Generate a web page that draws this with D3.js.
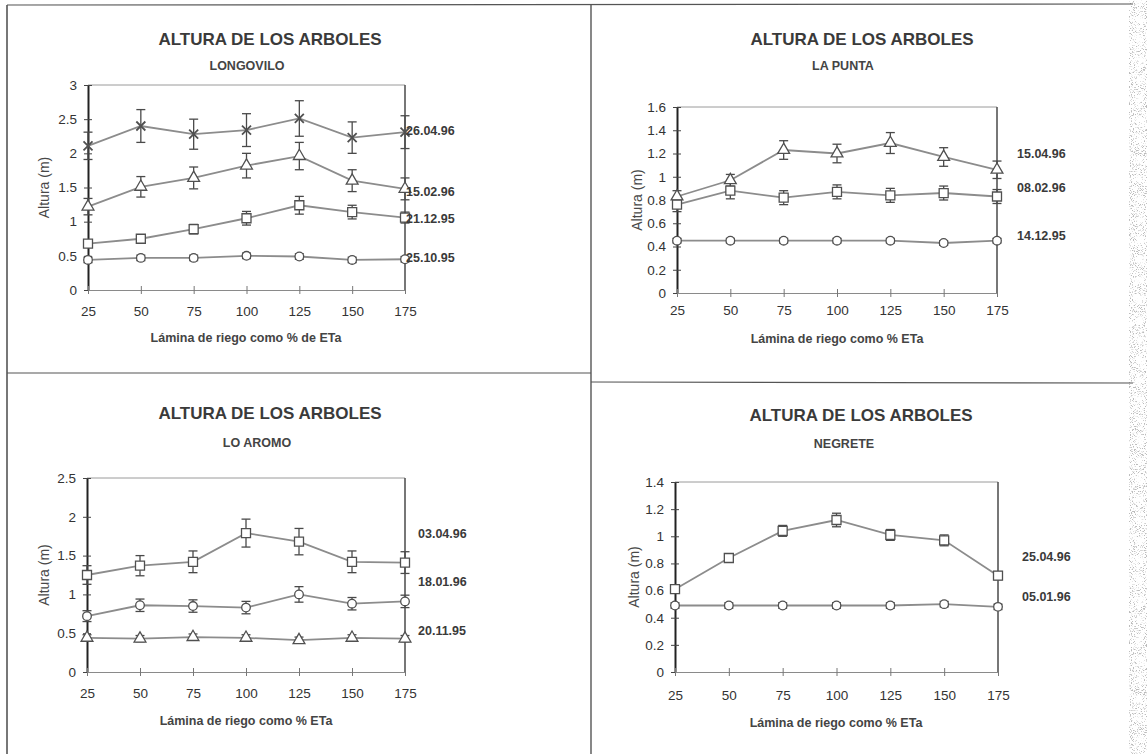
<!DOCTYPE html>
<html>
<head>
<meta charset="utf-8">
<script src="https://cdn.jsdelivr.net/npm/d3@7/dist/d3.min.js"></script>
<style>
  html, body { margin: 0; padding: 0; background: #fff; }
  svg { display: block; }
  text { font-family: "Liberation Sans", Arial, Helvetica, sans-serif; }
</style>
</head>
<body>
<svg id="chart" width="1147" height="754"></svg>
<script>
// Irrigation levels (% of ETa) shared by every panel
const laminas = [25, 50, 75, 100, 125, 150, 175];

// LONGOVILO - tree height (m) and its error half-width per sampling date
const longovilo_260496 = [2.11, 2.40, 2.28, 2.34, 2.51, 2.23, 2.31];
const longovilo_260496_err = [0.20, 0.24, 0.22, 0.24, 0.26, 0.23, 0.24];
const longovilo_150296 = [1.22, 1.51, 1.64, 1.82, 1.96, 1.60, 1.48];
const longovilo_150296_err = [0.12, 0.15, 0.16, 0.18, 0.20, 0.16, 0.16];
const longovilo_211295 = [0.68, 0.75, 0.89, 1.05, 1.24, 1.14, 1.06];
const longovilo_211295_err = [0.05, 0.05, 0.07, 0.10, 0.13, 0.10, 0.08];
const longovilo_251095 = [0.44, 0.47, 0.47, 0.50, 0.49, 0.44, 0.45];
const longovilo_251095_err = [0.04, 0.04, 0.04, 0.04, 0.04, 0.04, 0.04];

// LA PUNTA
const lapunta_150496 = [0.83, 0.97, 1.23, 1.20, 1.29, 1.17, 1.06];
const lapunta_150496_err = [0.05, 0.05, 0.08, 0.08, 0.09, 0.08, 0.075];
const lapunta_080296 = [0.76, 0.88, 0.82, 0.87, 0.84, 0.86, 0.83];
const lapunta_080296_err = [0.06, 0.07, 0.06, 0.06, 0.06, 0.06, 0.06];
const lapunta_141295 = [0.45, 0.45, 0.45, 0.45, 0.45, 0.43, 0.45];
const lapunta_141295_err = [0.02, 0.02, 0.02, 0.02, 0.02, 0.02, 0.02];

// LO AROMO
const loaromo_030496 = [1.25, 1.37, 1.42, 1.79, 1.68, 1.42, 1.41];
const loaromo_030496_err = [0.12, 0.13, 0.14, 0.18, 0.17, 0.14, 0.14];
const loaromo_180196 = [0.72, 0.86, 0.85, 0.83, 1.00, 0.88, 0.91];
const loaromo_180196_err = [0.07, 0.08, 0.08, 0.08, 0.10, 0.08, 0.08];
const loaromo_201195 = [0.44, 0.43, 0.45, 0.44, 0.41, 0.44, 0.43];
const loaromo_201195_err = [0.04, 0.04, 0.04, 0.04, 0.04, 0.04, 0.04];

// NEGRETE
const negrete_250496 = [0.61, 0.84, 1.04, 1.12, 1.01, 0.97, 0.71];
const negrete_250496_err = [0.03, 0.03, 0.04, 0.05, 0.04, 0.04, 0.03];
const negrete_050196 = [0.49, 0.49, 0.49, 0.49, 0.49, 0.50, 0.48];
const negrete_050196_err = [0.02, 0.02, 0.02, 0.02, 0.02, 0.02, 0.02];

// Axis tick values per panel
const ticksLongovilo = [0, 0.5, 1, 1.5, 2, 2.5, 3];
const ticksLaPunta = [0, 0.2, 0.4, 0.6, 0.8, 1, 1.2, 1.4, 1.6];
const ticksLoAromo = [0, 0.5, 1, 1.5, 2, 2.5];
const ticksNegrete = [0, 0.2, 0.4, 0.6, 0.8, 1, 1.2, 1.4];

const titulo = "ALTURA DE LOS ARBOLES";
const yTitulo = "Altura (m)";

// Panel layout: plot box, text anchors and where each date label sits
const panels = [
  {
    site: "LONGOVILO", xTitle: "Lámina de riego como % de ETa",
    box: { l: 88, r: 405, t: 85, b: 290 }, ticks: ticksLongovilo,
    titleX: 270, titleY: 45, subX: 247, subY: 70,
    xTitleX: 246, xTitleY: 342, tickY: 316, yTitleX: 45, labelX: 406,
    series: [
      { v: longovilo_260496, e: longovilo_260496_err, m: "x", name: "26.04.96" },
      { v: longovilo_150296, e: longovilo_150296_err, m: "triangle", name: "15.02.96", dy: 4 },
      { v: longovilo_211295, e: longovilo_211295_err, m: "square", name: "21.12.95", dy: 2 },
      { v: longovilo_251095, e: longovilo_251095_err, m: "circle", name: "25.10.95", dy: -1 }
    ]
  },
  {
    site: "LA PUNTA", xTitle: "Lámina de riego como % ETa",
    box: { l: 677, r: 997, t: 107, b: 293 }, ticks: ticksLaPunta,
    titleX: 862, titleY: 45, subX: 843, subY: 70,
    xTitleX: 837, xTitleY: 343, tickY: 315, yTitleX: 638, labelX: 1017,
    series: [
      { v: lapunta_150496, e: lapunta_150496_err, m: "triangle", name: "15.04.96", at: 1.19 },
      { v: lapunta_080296, e: lapunta_080296_err, m: "square", name: "08.02.96", at: 0.90 },
      { v: lapunta_141295, e: lapunta_141295_err, m: "circle", name: "14.12.95", at: 0.48 }
    ]
  },
  {
    site: "LO AROMO", xTitle: "Lámina de riego como % ETa",
    box: { l: 87, r: 405, t: 478, b: 672 }, ticks: ticksLoAromo,
    titleX: 270, titleY: 419, subX: 257, subY: 447,
    xTitleX: 246, xTitleY: 725, tickY: 698, yTitleX: 45, labelX: 418,
    series: [
      { v: loaromo_030496, e: loaromo_030496_err, m: "square", name: "03.04.96", at: 1.77 },
      { v: loaromo_180196, e: loaromo_180196_err, m: "circle", name: "18.01.96", at: 1.15 },
      { v: loaromo_201195, e: loaromo_201195_err, m: "triangle", name: "20.11.95", at: 0.52 }
    ]
  },
  {
    site: "NEGRETE", xTitle: "Lámina de riego como % ETa",
    box: { l: 675, r: 998, t: 482, b: 672 }, ticks: ticksNegrete,
    titleX: 861, titleY: 421, subX: 844, subY: 448,
    xTitleX: 836, xTitleY: 727, tickY: 700, yTitleX: 635, labelX: 1022,
    series: [
      { v: negrete_250496, e: negrete_250496_err, m: "square", name: "25.04.96", at: 0.84 },
      { v: negrete_050196, e: negrete_050196_err, m: "circle", name: "05.01.96", at: 0.55 }
    ]
  }
];

const svg = d3.select("#chart");
const W = 1147, H = 754;

// Paper background and speckled scan edge on the right
const defs = svg.append("defs");
const grain = defs.append("filter").attr("id", "grain")
  .attr("x", 0).attr("y", 0).attr("width", "100%").attr("height", "100%");
grain.append("feTurbulence").attr("type", "fractalNoise")
  .attr("baseFrequency", 0.95).attr("numOctaves", 2).attr("seed", 7).attr("result", "n");
grain.append("feColorMatrix").attr("in", "n").attr("type", "matrix")
  .attr("values", "0 0 0 0 0.5  0 0 0 0 0.5  0 0 0 0 0.5  7 0 0 0 -3.9");

svg.append("rect").attr("width", W).attr("height", H).attr("fill", "#fff");
svg.append("rect").attr("x", 1129).attr("y", 0).attr("width", W - 1129).attr("height", H)
  .attr("fill", "#fff").attr("filter", "url(#grain)");

// Frame lines dividing the four panels
const frame = svg.append("g").attr("stroke", "#555").attr("fill", "none");
frame.append("line").attr("x1", 7).attr("y1", 5).attr("x2", 1133).attr("y2", 4).attr("stroke-width", 1.2);
frame.append("line").attr("x1", 7).attr("y1", 5).attr("x2", 7).attr("y2", H).attr("stroke-width", 1.6);
frame.append("line").attr("x1", 591).attr("y1", 4).attr("x2", 591).attr("y2", H).attr("stroke-width", 1.4);
frame.append("line").attr("x1", 7).attr("y1", 373).attr("x2", 591).attr("y2", 373).attr("stroke-width", 1.2);
frame.append("line").attr("x1", 591).attr("y1", 382).attr("x2", 1133).attr("y2", 383).attr("stroke-width", 1.2);

function markerPath(type, size) {
  const h = size / 2;
  if (type === "x") {
    return `M${-h},${-h}L${h},${h}M${-h},${h}L${h},${-h}`;
  }
  if (type === "square") return d3.symbol(d3.symbolSquare, size * size)();
  if (type === "triangle") return d3.symbol(d3.symbolTriangle, size * size * 0.5)();
  return d3.symbol(d3.symbolCircle, size * size * 0.72)();
}

panels.forEach(p => {
  const g = svg.append("g");
  const x = d3.scaleLinear().domain([25, 175]).range([p.box.l, p.box.r]);
  const y = d3.scaleLinear().domain([0, d3.max(p.ticks)]).range([p.box.b, p.box.t]);
  const fmt = d => String(+d.toFixed(1));

  // Titles
  g.append("text").attr("x", p.titleX).attr("y", p.titleY).attr("text-anchor", "middle")
    .attr("font-size", 17).attr("font-weight", "bold").attr("fill", "#3a3a3a").text(titulo);
  g.append("text").attr("x", p.subX).attr("y", p.subY).attr("text-anchor", "middle")
    .attr("font-size", 12.5).attr("font-weight", "bold").attr("fill", "#444").text(p.site);

  // Plot frame: light top border, darker right edge
  g.append("line").attr("x1", p.box.l).attr("x2", p.box.r).attr("y1", p.box.t).attr("y2", p.box.t)
    .attr("stroke", "#9a9a9a").attr("stroke-width", 1);
  g.append("line").attr("x1", p.box.r).attr("x2", p.box.r).attr("y1", p.box.t).attr("y2", p.box.b)
    .attr("stroke", "#555").attr("stroke-width", 1.6);

  // Y axis (labels from the axis generator, crossing tick marks)
  const yAxis = g.append("g").attr("transform", `translate(${p.box.l},0)`)
    .call(d3.axisLeft(y).tickValues(p.ticks).tickFormat(fmt).tickSizeInner(4).tickSizeOuter(0).tickPadding(7));
  yAxis.select(".domain").attr("stroke", "#222").attr("stroke-width", 2);
  yAxis.selectAll(".tick line").attr("stroke", "#444").attr("x2", 4).attr("x1", -4);
  yAxis.selectAll(".tick text").attr("font-size", 13.5).attr("fill", "#333")
    .attr("font-family", "'Liberation Sans', Arial, sans-serif");

  // X axis
  const xAxis = g.append("g").attr("transform", `translate(0,${p.box.b})`)
    .call(d3.axisBottom(x).tickValues(laminas).tickFormat(d3.format("d")).tickSizeInner(4).tickSizeOuter(0).tickPadding(0));
  xAxis.select(".domain").attr("stroke", "#8a8a8a").attr("stroke-width", 1.1);
  xAxis.selectAll(".tick line").attr("stroke", "#777").attr("y1", -4).attr("y2", 4);
  xAxis.selectAll(".tick text").attr("font-size", 13.5).attr("fill", "#333")
    .attr("dy", null).attr("y", p.tickY - p.box.b)
    .attr("font-family", "'Liberation Sans', Arial, sans-serif");

  // Axis titles
  g.append("text").attr("x", p.xTitleX).attr("y", p.xTitleY).attr("text-anchor", "middle")
    .attr("font-size", 12.5).attr("font-weight", "bold").attr("fill", "#444").text(p.xTitle);
  g.append("text").attr("transform", `translate(${p.yTitleX},${(p.box.t + p.box.b) / 2}) rotate(-90)`)
    .attr("text-anchor", "middle").attr("dominant-baseline", "middle")
    .attr("font-size", 14).attr("fill", "#484848").text(yTitulo);

  const line = d3.line().x((d, i) => x(laminas[i])).y(d => y(d));

  // Series lines
  p.series.forEach(s => {
    g.append("path").datum(s.v).attr("d", line).attr("fill", "none")
      .attr("stroke", "#8c8c8c").attr("stroke-width", 1.8);
  });

  // Error bars with caps
  p.series.forEach(s => {
    const eg = g.append("g").attr("stroke", "#4a4a4a").attr("stroke-width", 1.3);
    s.v.forEach((v, i) => {
      const cx = x(laminas[i]);
      const y1 = y(v + s.e[i]), y0 = y(v - s.e[i]);
      eg.append("line").attr("x1", cx).attr("x2", cx).attr("y1", y1).attr("y2", y0);
      eg.append("line").attr("x1", cx - 4.5).attr("x2", cx + 4.5).attr("y1", y1).attr("y2", y1);
      eg.append("line").attr("x1", cx - 4.5).attr("x2", cx + 4.5).attr("y1", y0).attr("y2", y0);
    });
  });

  // Markers
  p.series.forEach(s => {
    const size = s.m === "x" ? 9 : (s.m === "triangle" ? 11 : 9);
    g.append("g").selectAll("path").data(s.v).join("path")
      .attr("transform", (d, i) => `translate(${x(laminas[i])},${y(d)})`)
      .attr("d", markerPath(s.m, size))
      .attr("fill", s.m === "x" ? "none" : "#fff")
      .attr("stroke", "#505050").attr("stroke-width", s.m === "x" ? 1.8 : 1.3);
  });

  // Date labels
  p.series.forEach(s => {
    const yy = s.at !== undefined ? y(s.at) : y(s.v[s.v.length - 1]) + (s.dy || 0);
    g.append("text").attr("x", p.labelX).attr("y", yy).attr("dominant-baseline", "middle")
      .attr("font-size", 12.5).attr("font-weight", "bold").attr("fill", "#3a3a3a").text(s.name);
  });
});
</script>
</body>
</html>
